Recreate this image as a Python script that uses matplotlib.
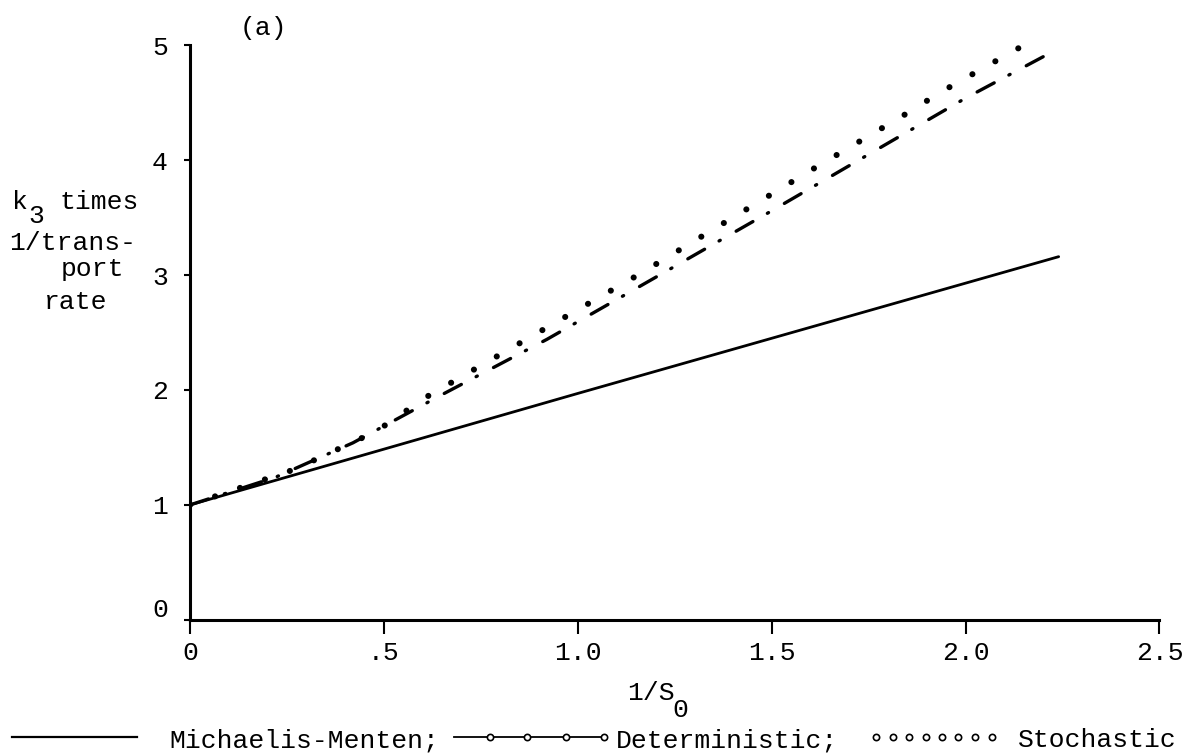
import matplotlib
matplotlib.use('Agg')
import matplotlib.pyplot as plt
from matplotlib.lines import Line2D
from matplotlib.transforms import ScaledTranslation

# ---- data ----
mm_x = [0.0, 1.0, 2.24]
mm_y = [1.0, 1.97, 3.16]
det_x = [0.0, 0.22, 0.42, 0.65, 0.92, 1.19, 1.49, 1.76, 2.0, 2.2]
det_y = [1.0, 1.24, 1.54, 1.96, 2.44, 2.96, 3.54, 4.07, 4.54, 4.90]
sto_x = [0.0, 0.27, 0.48, 0.61, 0.79, 0.98, 1.16, 1.38, 1.61, 1.84, 1.94, 2.15]
sto_y = [1.0, 1.31, 1.64, 1.94, 2.29, 2.66, 3.01, 3.46, 3.93, 4.39, 4.60, 5.00]
x_ticks = [0, 0.5, 1.0, 1.5, 2.0, 2.5]
x_labels = ['0', '.5', '1.0', '1.5', '2.0', '2.5']
y_ticks = [0, 1, 2, 3, 4, 5]
y_labels = ['0', '1', '2', '3', '4', '5']
legend_labels = ['Michaelis-Menten;', 'Deterministic;', 'Stochastic']

FONT = ['Liberation Mono', 'DejaVu Sans Mono']
plt.rcParams['font.family'] = FONT
FS = 19

fig = plt.figure(figsize=(11.88, 7.54), dpi=100)
ax = fig.add_axes([0.160, 0.178, 0.816, 0.762])
ax.set_xlim(0, 2.5)
ax.set_ylim(0, 5)

ax.plot(mm_x, mm_y, color='black', lw=2.0, solid_capstyle='round')
ax.plot(det_x, det_y, color='black', lw=2.4,
        linestyle=(0, (5.8, 5.0, 0.4, 5.5)), dash_capstyle='round')
ax.plot(sto_x, sto_y, color='black', lw=4.4,
        linestyle=(0, (0.01, 4.3)), dash_capstyle='round')

for s in ['top', 'right']:
    ax.spines[s].set_visible(False)
for s in ['left', 'bottom']:
    ax.spines[s].set_linewidth(2.2)
ax.set_xticks(x_ticks)
ax.set_xticklabels(x_labels, fontsize=FS)
ax.set_yticks(y_ticks)
ax.set_yticklabels(y_labels, fontsize=FS)
ax.tick_params(axis='x', direction='out', length=10, width=1.5, pad=5)
ax.tick_params(axis='y', direction='out', length=4, width=1.5, pad=12)
# the typed "0" on the y axis sits a little above the corner
lab0 = ax.get_yticklabels()[0]
lab0.set_transform(lab0.get_transform() + ScaledTranslation(0, 12 / 100, fig.dpi_scale_trans))

# x label 1/S0
fig.text(0.548, 0.072, '1/S', fontsize=FS, ha='center', va='baseline')
fig.text(0.566, 0.049, '0', fontsize=FS, ha='left', va='baseline')

# y label block
fig.text(0.010, 0.723, 'k', fontsize=FS, ha='left', va='baseline')
fig.text(0.024, 0.704, '3', fontsize=FS, ha='left', va='baseline')
fig.text(0.050, 0.723, 'times', fontsize=FS, ha='left', va='baseline')
fig.text(0.008, 0.668, '1/trans-', fontsize=FS, ha='left', va='baseline')
fig.text(0.051, 0.634, 'port', fontsize=FS, ha='left', va='baseline')
fig.text(0.037, 0.590, 'rate', fontsize=FS, ha='left', va='baseline')

# panel tag
fig.text(0.202, 0.953, '(a)', fontsize=FS, ha='left', va='baseline')

# legend row (typed caption under the figure)
W = 1188.0
def fx(px):
    return px / W
ly_line = 0.0225
ly_text = 0.009
fig.add_artist(Line2D([fx(12), fx(137)], [ly_line, ly_line],
                      transform=fig.transFigure, color='black', lw=1.6))
fig.text(fx(169), ly_text, legend_labels[0], fontsize=FS, ha='left', va='baseline')
fig.add_artist(Line2D([fx(454), fx(604)], [ly_line, ly_line],
                      transform=fig.transFigure, color='black', lw=1.3))
for px in [490, 527, 566, 604]:
    fig.add_artist(Line2D([fx(px)], [ly_line], transform=fig.transFigure,
                          color='black', lw=0, marker='o', markersize=4.5,
                          mfc='white', mec='black', mew=1.2))
fig.text(fx(616), ly_text, legend_labels[1], fontsize=FS, ha='left', va='baseline')
for i in range(8):
    px = 876 + i * 16.5
    fig.add_artist(Line2D([fx(px)], [ly_line], transform=fig.transFigure,
                          color='black', lw=0, marker='o', markersize=4.5,
                          mfc='white', mec='black', mew=1.2))
fig.text(fx(1018), ly_text, legend_labels[2], fontsize=FS, ha='left', va='baseline')

fig.savefig('out.png', dpi=100)
